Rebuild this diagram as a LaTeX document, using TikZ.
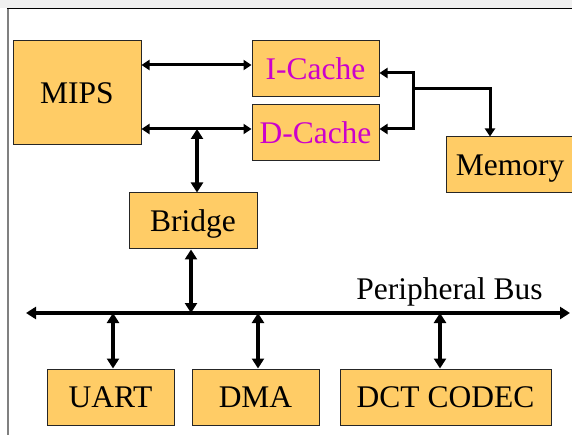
\documentclass[tikz,border=0pt]{standalone}
\usepackage{fontspec}
\setmainfont{Liberation Serif}
\usetikzlibrary{arrows.meta}
\definecolor{boxfill}{HTML}{FFCC66}
\definecolor{cachetext}{HTML}{CC00CC}
\begin{document}
\begin{tikzpicture}[x=1pt,y=-1pt,
  blk/.style={draw=black!85,line width=1pt,fill=boxfill,rectangle,inner sep=0pt,
    font=\fontsize{31.5}{34}\selectfont,text height=20.9pt,text depth=0pt},
  thinarr/.style={line width=3pt,{Triangle[length=8pt,width=10pt]}-{Triangle[length=8pt,width=10pt]}},
  thickarr/.style={line width=4pt,{Triangle[length=10pt,width=12pt]}-{Triangle[length=10pt,width=12pt]}},
  onearr/.style={line width=3pt,-{Triangle[length=8pt,width=10pt]}}]
\useasboundingbox (0,0) rectangle (572,435);
\fill[gray!12] (0,0) rectangle (572,8);
\draw[black,line width=1pt] (7,9) -- (572,9);
\draw[gray,line width=2pt] (8,9) -- (8,435);
% blocks
\node[blk,minimum width=128pt,minimum height=104pt] (mips) at (77,93) {MIPS};
\node[blk,minimum width=127pt,minimum height=56pt,text=cachetext] (ic) at (315.5,69) {I-Cache};
\node[blk,minimum width=127pt,minimum height=56pt,text=cachetext] (dc) at (315.5,133) {D-Cache};
\node[blk,minimum width=128pt,minimum height=56pt] (bridge) at (193,221) {Bridge};
\node[blk,minimum width=128pt,minimum height=56pt] (mem) at (510,165) {Memory};
\node[blk,minimum width=127pt,minimum height=56pt] (uart) at (110.5,397) {UART};
\node[blk,minimum width=127pt,minimum height=56pt] (dma) at (255.5,397) {DMA};
\node[blk,minimum width=211pt,minimum height=56pt] (dct) at (445.5,397) {DCT CODEC};
% coordinates
\coordinate (dtap) at (197,129);
\coordinate (trunkI) at (413,73);
\coordinate (trunkD) at (413,129);
\coordinate (memtap) at (413,89);
\coordinate (memdrop) at (490,89);
\coordinate (busL) at (26,313);
\coordinate (busR) at (570,313);
\coordinate (busbr) at (191,313);
\coordinate (busu) at (113,313);
\coordinate (busd) at (258,313);
\coordinate (busc) at (440,313);
% cpu to caches
\draw[thinarr] (mips.east |- 0,65) -- (ic.west |- 0,65);
\draw[thinarr] (mips.east |- 0,129) -- (dc.west |- 0,129);
% caches to memory
\draw[thinarr,line join=miter] (ic.east |- trunkI) -- (trunkI) -- (trunkD) -- (dc.east |- trunkD);
\draw[onearr] (memtap) -- (memdrop) -- (memdrop |- mem.north);
% bridge
\draw[thickarr] (dtap) -- (dtap |- bridge.north);
\draw[thickarr] (bridge.south -| busbr) -- (busbr);
% bus
\draw[thickarr] (busL) -- (busR);
\node[font=\fontsize{31.5}{34}\selectfont,anchor=base,inner sep=0pt] (buslabel) at (449.5,299) {Peripheral Bus};
\draw[thickarr] (busu) -- (uart.north -| busu);
\draw[thickarr] (busd) -- (dma.north -| busd);
\draw[thickarr] (busc) -- (dct.north -| busc);
\end{tikzpicture}
\end{document}
